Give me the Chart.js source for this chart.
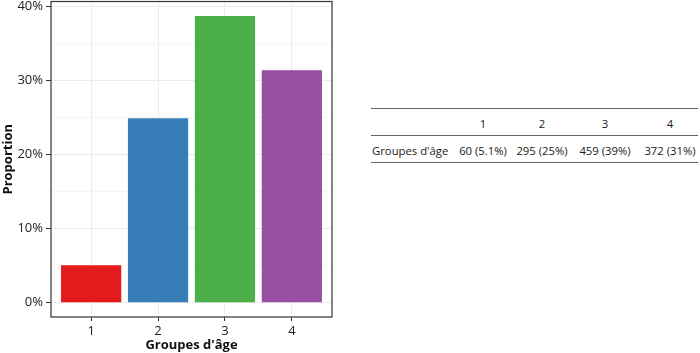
<!DOCTYPE html>
<html>
<head>
<meta charset="utf-8">
<script src="https://cdn.jsdelivr.net/npm/chart.js@4/dist/chart.umd.min.js"></script>
<style>
  html, body { margin: 0; padding: 0; background: #fff; }
  body { width: 700px; height: 353px; position: relative; overflow: hidden; font-family: 'Open Sans', sans-serif; }
  #chart { position: absolute; left: 0; top: 0; }
  .tbl { position: absolute; font-size: 11.3px; color: #1a1a1a; white-space: nowrap; }
  .rule { position: absolute; left: 371px; width: 327px; height: 1px; background: #666; }
</style>
</head>
<body>
<canvas id="chart" width="340" height="353"></canvas>
<div id="table"></div>
<script>
const categories = [1, 2, 3, 4];
const counts = [60, 295, 459, 372];
const proportions = [5.06, 24.87, 38.70, 31.37];
const cellLabels = ['60 (5.1%)', '295 (25%)', '459 (39%)', '372 (31%)'];
const barColors = ['#E41A1C', '#377EB8', '#4DAF4A', '#984EA3'];
const yTicks = [0, 5, 10, 15, 20, 25, 30, 35, 40];
const rowLabel = "Groupes d'âge";

const font = "'Open Sans', sans-serif";

const boxPlugin = {
  id: 'box',
  afterDraw(chart) {
    const a = chart.chartArea, c = chart.ctx;
    c.save();
    c.strokeStyle = '#333';
    c.lineWidth = 1.2;
    c.strokeRect(a.left, a.top, a.right - a.left, a.bottom - a.top);
    c.restore();
  }
};

new Chart(document.getElementById('chart'), {
  type: 'bar',
  data: {
    datasets: [{
      data: categories.map((c, i) => ({ x: c, y: proportions[i] })),
      backgroundColor: barColors,
      borderWidth: 0,
      categoryPercentage: 1,
      barPercentage: 0.9
    }]
  },
  options: {
    responsive: false,
    animation: false,
    events: [],
    layout: { padding: { top: 1.5, right: 8, left: 0, bottom: 0 } },
    plugins: { legend: { display: false }, tooltip: { enabled: false } },
    scales: {
      x: {
        type: 'linear',
        min: 0.4, max: 4.6,
        offset: false,
        afterBuildTicks: s => { s.ticks = categories.map(v => ({ value: v })); },
        afterFit: s => { s.height = 36; s.paddingLeft = 0; s.paddingRight = 0; },
        grid: { color: '#EBEBEB', tickColor: '#333', tickLength: 4, offset: false },
        border: { display: false },
        ticks: { color: '#222', font: { family: font, size: 13 }, padding: 2 },
        title: { display: true, text: rowLabel, color: '#111', font: { family: font, size: 13, weight: 'bold' }, padding: { top: 0, bottom: 0 } }
      },
      y: {
        min: -1.935, max: 40.64,
        afterBuildTicks: s => { s.ticks = yTicks.map(v => ({ value: v })); },
        afterFit: s => { s.width = 51; s.paddingTop = 0; s.paddingBottom = 0; },
        grid: {
          color: ctx => (ctx.tick && ctx.tick.value % 10 === 0) ? '#EBEBEB' : '#F5F5F5',
          tickColor: ctx => (ctx.tick && ctx.tick.value % 10 === 0) ? '#333' : 'rgba(0,0,0,0)',
          tickLength: 5
        },
        border: { display: false },
        ticks: {
          color: '#222', font: { family: font, size: 13 }, padding: 3,
          callback: v => v % 10 === 0 ? v + '%' : ''
        },
        title: { display: true, text: 'Proportion', color: '#111', font: { family: font, size: 13, weight: 'bold' }, padding: { top: 0, bottom: 0 } }
      }
    }
  },
  plugins: [boxPlugin]
});

// table on the right
const t = document.getElementById('table');
const add = (html) => t.insertAdjacentHTML('beforeend', html);
[107.5, 134.5, 161.5].forEach(y => add(`<div class="rule" style="top:${y}px"></div>`));
const colX = [483, 542, 605, 670];
categories.forEach((c, i) => add(`<div class="tbl" style="left:${colX[i]}px;top:116px;transform:translateX(-50%)">${c}</div>`));
add(`<div class="tbl" style="left:372px;top:143px">${rowLabel}</div>`);
cellLabels.forEach((l, i) => add(`<div class="tbl" style="left:${colX[i]}px;top:143px;transform:translateX(-50%)">${l}</div>`));
</script>
</body>
</html>
